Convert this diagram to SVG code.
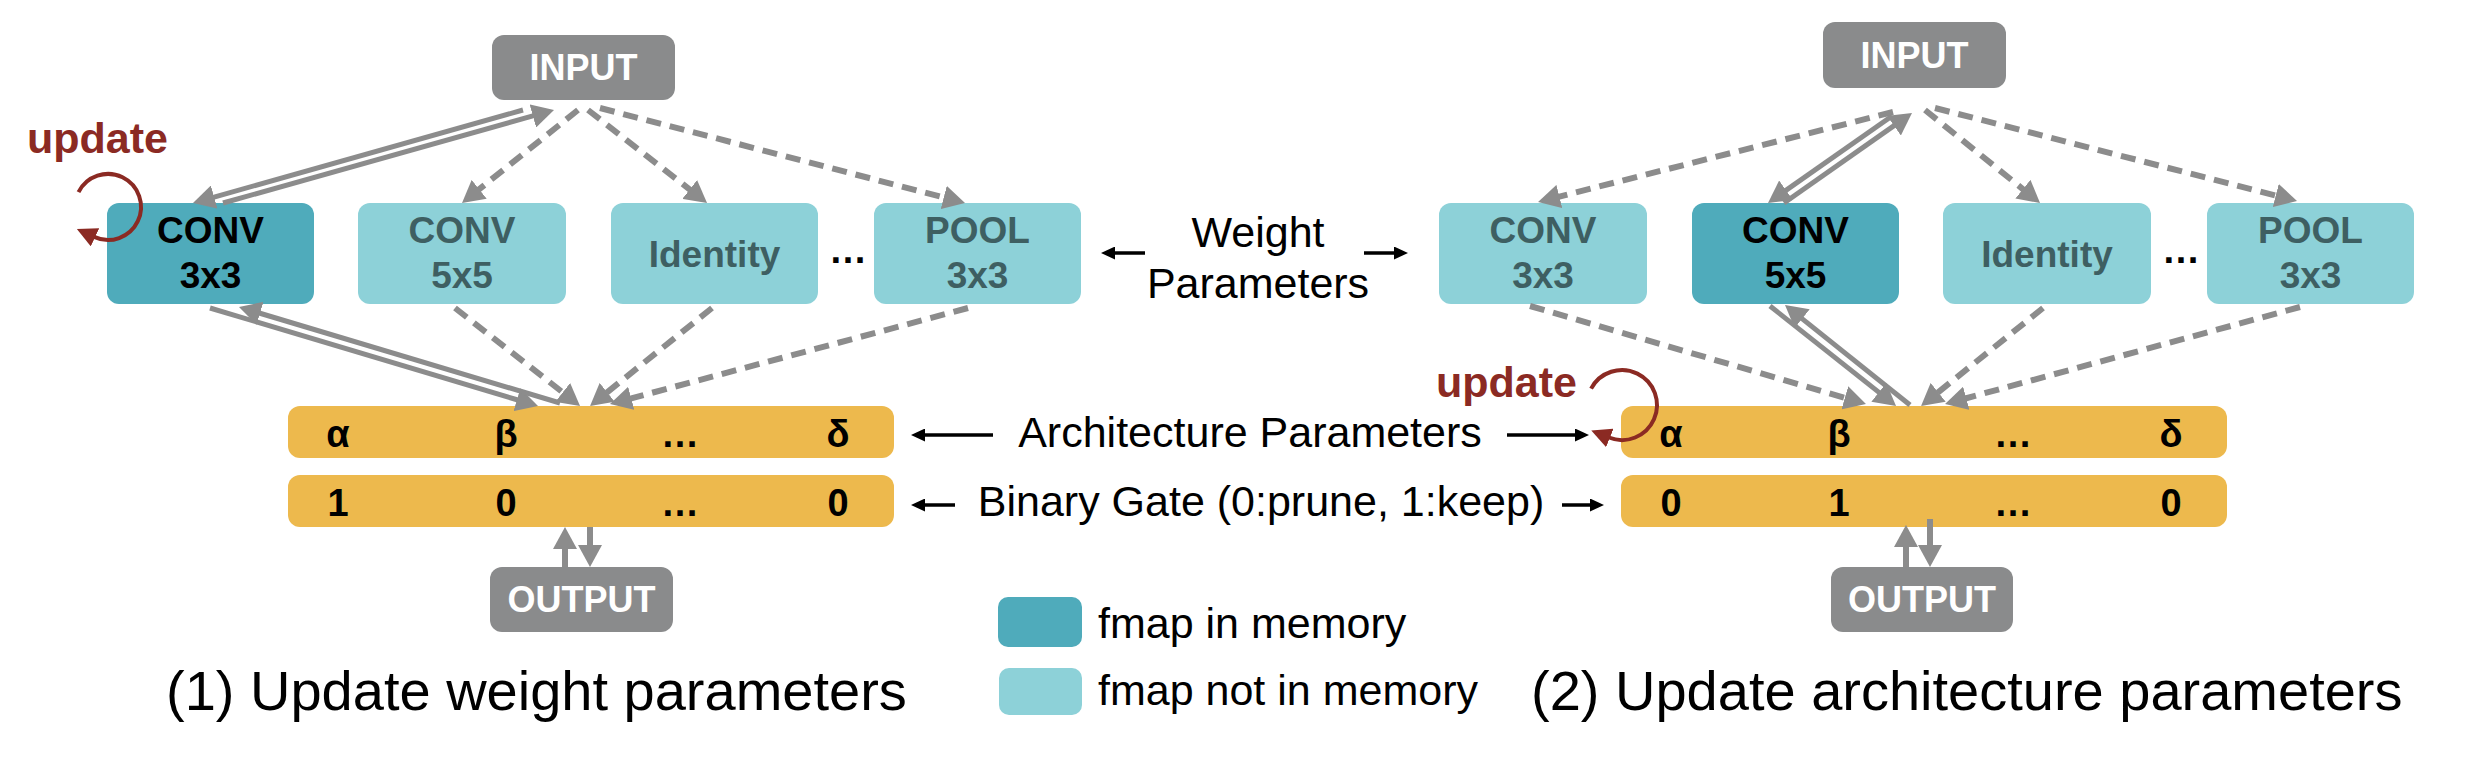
<svg xmlns="http://www.w3.org/2000/svg" width="2480" height="776" viewBox="0 0 2480 776">
<style>
text{font-family:"Liberation Sans",Arial,sans-serif}
.dk{fill:#4fabbb}
.lt{fill:#8dd1d8}
.gr{fill:#8a8b8c}
.bar{fill:#edb94d}
.nb{font-weight:bold;font-size:37px;text-anchor:middle}
.tk{fill:#000}
.tl{fill:#3e5f62}
.tw{fill:#fff;font-weight:bold;font-size:36px;text-anchor:middle}
.bt{font-weight:bold;font-size:38px;text-anchor:middle;fill:#000}
.lab{font-size:43px;fill:#000}
.cap{font-size:56px;fill:#000}
.upd{font-weight:bold;font-size:43px;fill:#8b2a23}
.dash{stroke:#8c8c8c;stroke-width:6;stroke-dasharray:15 9;fill:none;marker-end:url(#ag)}
.sol{stroke:#8c8c8c;stroke-width:5;fill:none;marker-end:url(#ag)}
.out{stroke:#8c8c8c;stroke-width:6;fill:none;marker-end:url(#ag)}
.blk{stroke:#000;stroke-width:3.5;fill:none;marker-end:url(#ab)}
.red{stroke:#8b2a23;stroke-width:4;fill:none;marker-end:url(#ar)}
</style>
<defs>
<marker id="ag" markerUnits="userSpaceOnUse" markerWidth="22" markerHeight="24" refX="1" refY="12" orient="auto"><path d="M0,0 L22,12 L0,24 z" fill="#8c8c8c"/></marker>
<marker id="ab" markerUnits="userSpaceOnUse" markerWidth="14" markerHeight="13" refX="1" refY="6.5" orient="auto"><path d="M0,0 L14,6.5 L0,13 z" fill="#000"/></marker>
<marker id="ar" markerUnits="userSpaceOnUse" markerWidth="20" markerHeight="20" refX="1" refY="10" orient="auto"><path d="M0,0 L20,10 L0,20 z" fill="#8b2a23"/></marker>
</defs>
<rect width="2480" height="776" fill="#fff"/>

<!-- Left panel nodes -->
<g id="input1"><rect class="gr" x="492" y="35" width="183" height="65" rx="12"/><text class="tw" x="583.5" y="80">INPUT</text></g>
<g id="conv33_1"><rect class="dk" x="107" y="203" width="207" height="101" rx="12"/><text class="nb tk" x="210.5" y="243">CONV</text><text class="nb tk" x="210.5" y="288">3x3</text></g>
<g id="conv55_1"><rect class="lt" x="358" y="203" width="208" height="101" rx="12"/><text class="nb tl" x="462" y="243">CONV</text><text class="nb tl" x="462" y="288">5x5</text></g>
<g id="identity1"><rect class="lt" x="611" y="203" width="207" height="101" rx="12"/><text class="nb tl" x="714.5" y="267">Identity</text></g>
<g id="dots1"><text class="bt" x="848" y="263" font-size="32">…</text></g>
<g id="pool1"><rect class="lt" x="874" y="203" width="207" height="101" rx="12"/><text class="nb tl" x="977.5" y="243">POOL</text><text class="nb tl" x="977.5" y="288">3x3</text></g>
<g id="arch1"><rect class="bar" x="288" y="406" width="606" height="52" rx="12"/><text class="bt" x="338" y="447">α</text><text class="bt" x="506" y="447">β</text><text class="bt" x="680" y="447">…</text><text class="bt" x="838" y="447">δ</text></g>
<g id="gate1"><rect class="bar" x="288" y="475" width="606" height="52" rx="12"/><text class="bt" x="338" y="516">1</text><text class="bt" x="506" y="516">0</text><text class="bt" x="680" y="516">…</text><text class="bt" x="838" y="516">0</text></g>
<g id="output1"><rect class="gr" x="490" y="567" width="183" height="65" rx="12"/><text class="tw" x="581.5" y="612">OUTPUT</text></g>

<!-- Right panel nodes -->
<g id="input2"><rect class="gr" x="1823" y="22" width="183" height="66" rx="12"/><text class="tw" x="1914.5" y="68">INPUT</text></g>
<g id="conv33_2"><rect class="lt" x="1439" y="203" width="208" height="101" rx="12"/><text class="nb tl" x="1543" y="243">CONV</text><text class="nb tl" x="1543" y="288">3x3</text></g>
<g id="conv55_2"><rect class="dk" x="1692" y="203" width="207" height="101" rx="12"/><text class="nb tk" x="1795.5" y="243">CONV</text><text class="nb tk" x="1795.5" y="288">5x5</text></g>
<g id="identity2"><rect class="lt" x="1943" y="203" width="208" height="101" rx="12"/><text class="nb tl" x="2047" y="267">Identity</text></g>
<g id="dots2"><text class="bt" x="2181" y="263" font-size="32">…</text></g>
<g id="pool2"><rect class="lt" x="2207" y="203" width="207" height="101" rx="12"/><text class="nb tl" x="2310.5" y="243">POOL</text><text class="nb tl" x="2310.5" y="288">3x3</text></g>
<g id="arch2"><rect class="bar" x="1621" y="406" width="606" height="52" rx="12"/><text class="bt" x="1671" y="447">α</text><text class="bt" x="1839" y="447">β</text><text class="bt" x="2013" y="447">…</text><text class="bt" x="2171" y="447">δ</text></g>
<g id="gate2"><rect class="bar" x="1621" y="475" width="606" height="52" rx="12"/><text class="bt" x="1671" y="516">0</text><text class="bt" x="1839" y="516">1</text><text class="bt" x="2013" y="516">…</text><text class="bt" x="2171" y="516">0</text></g>
<g id="output2"><rect class="gr" x="1831" y="567" width="182" height="65" rx="12"/><text class="tw" x="1922" y="612">OUTPUT</text></g>

<!-- Connectors -->
<g id="connectors">
<line class="dash" x1="578" y1="110" x2="478.4" y2="189.9"/>
<line class="dash" x1="588" y1="110" x2="690.5" y2="190.1"/>
<line class="dash" x1="600" y1="108" x2="944.7" y2="197.7"/>
<line class="dash" x1="455" y1="308" x2="563.5" y2="393"/>
<line class="dash" x1="712" y1="308" x2="606.4" y2="392.9"/>
<line class="dash" x1="968" y1="308" x2="630.3" y2="398.6"/>
<line class="sol" x1="523" y1="110" x2="213.2" y2="197.3"/>
<line class="sol" x1="223" y1="203" x2="533.8" y2="115.7"/>
<line class="sol" x1="210" y1="308" x2="517.9" y2="400"/>
<line class="sol" x1="560" y1="403" x2="259.1" y2="313"/>
<line class="out" x1="565" y1="567" x2="565" y2="548"/>
<line class="out" x1="590" y1="527" x2="590" y2="546"/>

<line class="dash" x1="1893" y1="112" x2="1558.4" y2="196.8"/>
<line class="sol" x1="1892" y1="116" x2="1785.2" y2="190.9"/>
<line class="sol" x1="1784" y1="203" x2="1894.8" y2="125.1"/>
<line class="dash" x1="1925" y1="110" x2="2023.7" y2="189.8"/>
<line class="dash" x1="1935" y1="108" x2="2276.7" y2="195.8"/>
<line class="dash" x1="1530" y1="306" x2="1845.8" y2="398.1"/>
<line class="sol" x1="1770" y1="306" x2="1879.6" y2="392.9"/>
<line class="sol" x1="1910" y1="405" x2="1801.4" y2="318.1"/>
<line class="dash" x1="2043" y1="308" x2="1937.4" y2="392.9"/>
<line class="dash" x1="2300" y1="307" x2="1965.3" y2="398.5"/>
<line class="out" x1="1906" y1="567" x2="1906" y2="546"/>
<line class="out" x1="1930" y1="519" x2="1930" y2="546"/>

<line class="blk" x1="1145" y1="253" x2="1114" y2="253"/>
<line class="blk" x1="1364" y1="253" x2="1395" y2="253"/>
<line class="blk" x1="993" y1="435" x2="924" y2="435"/>
<line class="blk" x1="1507" y1="435" x2="1576" y2="435"/>
<line class="blk" x1="955" y1="505" x2="924" y2="505"/>
<line class="blk" x1="1562" y1="505" x2="1591" y2="505"/>

<path class="red" d="M78.5,192.2 A33,33 0 1 1 94.1,236.9"/>
<path class="red" d="M1591.1,388.6 A35,35 0 1 1 1608.9,437.5"/>
</g>

<!-- Labels -->
<g id="labels">
<text class="upd" x="27" y="153">update</text>
<text class="upd" x="1577" y="397" text-anchor="end">update</text>
<text class="lab" x="1258" y="247" text-anchor="middle">Weight</text>
<text class="lab" x="1258" y="298" text-anchor="middle">Parameters</text>
<text class="lab" x="1250" y="447" text-anchor="middle">Architecture Parameters</text>
<text class="lab" x="1261" y="516" text-anchor="middle">Binary Gate (0:prune, 1:keep)</text>
<text class="cap" x="166" y="710">(1) Update weight parameters</text>
<text class="cap" x="1531" y="710">(2) Update architecture parameters</text>
</g>

<g id="legend">
<rect class="dk" x="998" y="597" width="84" height="50" rx="10"/>
<text class="lab" x="1098" y="638">fmap in memory</text>
<rect class="lt" x="999" y="668" width="83" height="47" rx="10"/>
<text class="lab" x="1098" y="705">fmap not in memory</text>
</g>
</svg>
